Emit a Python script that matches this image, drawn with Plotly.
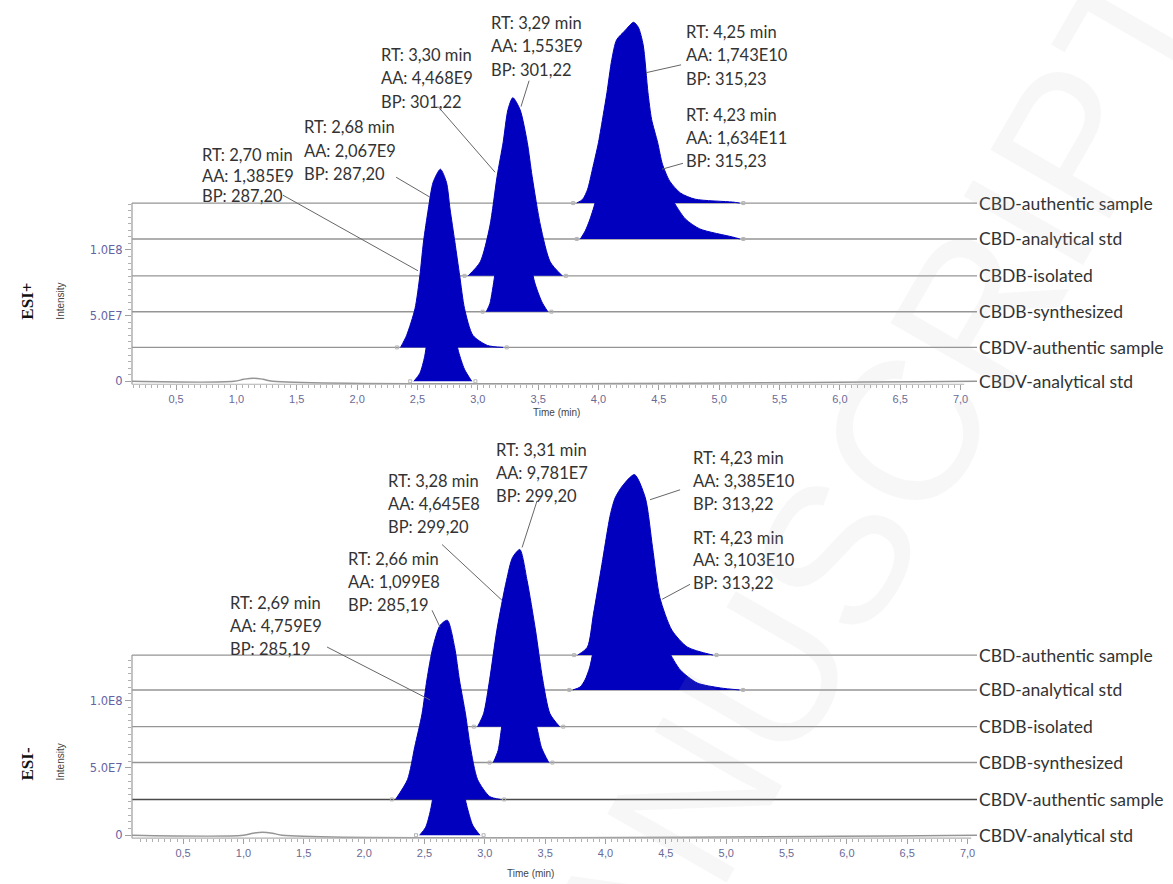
import numpy as np
import plotly.graph_objects as go

W, H = 1173, 884
BLUE = "#0000BE"
GREY = "#959595"

SAMPLES = ["CBD-authentic sample", "CBD-analytical std", "CBDB-isolated",
           "CBDB-synthesized", "CBDV-authentic sample", "CBDV-analytical std"]

# vertical offsets of each stacked chromatogram (intensity units)
POS_OFFSETS = [1.357e8, 1.084e8, 8.03e7, 5.30e7, 2.58e7, 0.0]
NEG_OFFSETS = [1.339e8, 1.080e8, 8.07e7, 5.40e7, 2.66e7, 0.0]

# ---------------- ESI+ peaks (time in min, intensity above own baseline) ----
POS_CBD_AUTH_T = [3.82, 3.87, 3.91, 3.95, 4.00, 4.04, 4.07, 4.11, 4.15, 4.22, 4.29, 4.33,
                  4.37, 4.41, 4.44, 4.49, 4.53, 4.59, 4.68, 4.80, 5.11, 5.17]
POS_CBD_AUTH_I = [0, 3.0e6, 10.6e6, 25.8e6, 46.2e6, 67.5e6, 84.1e6, 109.2e6, 124.3e6, 131.4e6,
                  137.7e6, 133.9e6, 120.5e6, 84.1e6, 63.7e6, 46.2e6, 29.6e6, 16.7e6, 7.6e6,
                  3.0e6, 0.8e6, 0]
POS_CBD_STD_T = [3.85, 3.89, 3.93, 3.98, 4.04, 4.10, 4.16, 4.26, 4.34, 4.42, 4.51, 4.61,
                 4.72, 4.84, 5.11, 5.17]
POS_CBD_STD_I = [0, 6.1e6, 15.2e6, 30.3e6, 60.6e6, 91.0e6, 109.9e6, 113.7e6, 106.1e6, 75.8e6,
                 49.3e6, 30.3e6, 15.2e6, 7.6e6, 1.5e6, 0]
POS_CBDB_ISO_T = [2.92, 3.02, 3.10, 3.16, 3.21, 3.25, 3.29, 3.35, 3.41, 3.45, 3.52, 3.60, 3.70]
POS_CBDB_ISO_I = [0, 10.6e6, 37.9e6, 75.8e6, 101.6e6, 126.6e6, 135.7e6, 126.6e6, 101.6e6,
                  75.8e6, 37.9e6, 10.6e6, 0]
POS_CBDB_SYN_T = [3.07, 3.10, 3.14, 3.18, 3.23, 3.28, 3.35, 3.42, 3.47, 3.53, 3.58]
POS_CBDB_SYN_I = [0, 6.1e6, 27.3e6, 53.1e6, 72.0e6, 75.8e6, 68.2e6, 45.5e6, 22.7e6, 7.6e6, 0]
POS_CBDV_AUTH_T = [2.36, 2.41, 2.48, 2.52, 2.55, 2.59, 2.63, 2.69, 2.74, 2.77, 2.81, 2.85,
                   2.89, 2.96, 3.08, 3.21]
POS_CBDV_AUTH_I = [0, 9.1e6, 29.6e6, 54.6e6, 80.3e6, 105.4e6, 125.8e6, 135.7e6, 125.8e6,
                   105.4e6, 80.3e6, 54.6e6, 29.6e6, 9.1e6, 1.5e6, 0]
POS_CBDV_STD_T = [2.47, 2.52, 2.56, 2.60, 2.65, 2.70, 2.75, 2.79, 2.84, 2.89, 2.95]
POS_CBDV_STD_I = [0, 6.1e6, 19.0e6, 45.5e6, 75.8e6, 83.4e6, 72.0e6, 45.5e6, 22.7e6, 9.1e6, 0]
POS_BUMP_T = [0.98, 1.06, 1.14, 1.22, 1.30]
POS_BUMP_I = [0, 1.5e6, 2.3e6, 1.5e6, 0]

# ---------------- ESI- peaks ----------------
NEG_CBD_AUTH_T = [3.77, 3.85, 3.90, 3.97, 4.04, 4.08, 4.14, 4.24, 4.33, 4.39, 4.45, 4.55, 4.68, 4.89]
NEG_CBD_AUTH_I = [0, 5.9e6, 30.3e6, 67.3e6, 104.3e6, 116.9e6, 125.8e6, 134.2e6, 116.9e6,
                  79.9e6, 42.9e6, 18.5e6, 5.9e6, 0]
NEG_CBD_STD_T = [3.73, 3.79, 3.83, 3.87, 3.93, 4.00, 4.08, 4.20, 4.30, 4.37, 4.44, 4.52,
                 4.62, 4.76, 4.95, 5.11]
NEG_CBD_STD_I = [0, 2.2e6, 7.4e6, 17.0e6, 44.4e6, 74.0e6, 103.6e6, 111.0e6, 99.9e6, 74.0e6,
                 48.1e6, 29.6e6, 14.8e6, 5.2e6, 1.5e6, 0]
NEG_CBDB_ISO_T = [2.94, 2.99, 3.04, 3.10, 3.18, 3.23, 3.29, 3.35, 3.42, 3.48, 3.54, 3.62]
NEG_CBDB_ISO_I = [0, 9.6e6, 34.8e6, 71.8e6, 108.8e6, 125.8e6, 131.7e6, 108.8e6, 71.8e6,
                  34.8e6, 9.6e6, 0]
NEG_CBDB_SYN_T = [3.07, 3.11, 3.14, 3.19, 3.25, 3.31, 3.37, 3.43, 3.47, 3.53]
NEG_CBDB_SYN_I = [0, 8.9e6, 26.6e6, 55.5e6, 70.3e6, 66.6e6, 44.4e6, 26.6e6, 11.1e6, 0]
NEG_CBDV_AUTH_T = [2.26, 2.36, 2.42, 2.48, 2.52, 2.57, 2.63, 2.69, 2.75, 2.79, 2.84, 2.88,
                   2.94, 3.04, 3.13]
NEG_CBDV_AUTH_I = [0, 14.8e6, 39.2e6, 63.6e6, 88.8e6, 113.2e6, 129.5e6, 133.2e6, 113.2e6,
                   88.8e6, 63.6e6, 39.2e6, 14.8e6, 2.2e6, 0]
NEG_CBDV_STD_T = [2.46, 2.51, 2.55, 2.60, 2.65, 2.70, 2.75, 2.80, 2.85, 2.90, 2.96]
NEG_CBDV_STD_I = [0, 5.9e6, 18.5e6, 44.4e6, 74.0e6, 81.4e6, 70.3e6, 44.4e6, 22.2e6, 7.4e6, 0]
NEG_BUMP_T = [1.00, 1.08, 1.16, 1.24, 1.32]
NEG_BUMP_I = [0, 1.5e6, 2.2e6, 1.5e6, 0]

# ---------------- peak labels ----------------
POS_RT = ["2,70", "2,68", "3,30", "3,29", "4,25", "4,23"]
POS_AA = ["1,385E9", "2,067E9", "4,468E9", "1,553E9", "1,743E10", "1,634E11"]
POS_BP = ["287,20", "287,20", "301,22", "301,22", "315,23", "315,23"]
NEG_RT = ["2,69", "2,66", "3,28", "3,31", "4,23", "4,23"]
NEG_AA = ["4,759E9", "1,099E8", "4,645E8", "9,781E7", "3,385E10", "3,103E10"]
NEG_BP = ["285,19", "285,19", "299,20", "299,20", "313,22", "313,22"]

# ---------------- axes ----------------
X_TICKS = [0.5, 1.0, 1.5, 2.0, 2.5, 3.0, 3.5, 4.0, 4.5, 5.0, 5.5, 6.0, 6.5, 7.0]
X_TICK_TEXT = ["0,5", "1,0", "1,5", "2,0", "2,5", "3,0", "3,5", "4,0", "4,5", "5,0",
               "5,5", "6,0", "6,5", "7,0"]
Y_TICKS = [0, 5e7, 1e8]
Y_TICK_TEXT = ["0", "5.0E7", "1.0E8"]

POS_PEAKS = [(POS_CBD_AUTH_T, POS_CBD_AUTH_I), (POS_CBD_STD_T, POS_CBD_STD_I),
             (POS_CBDB_ISO_T, POS_CBDB_ISO_I), (POS_CBDB_SYN_T, POS_CBDB_SYN_I),
             (POS_CBDV_AUTH_T, POS_CBDV_AUTH_I), (POS_CBDV_STD_T, POS_CBDV_STD_I)]
NEG_PEAKS = [(NEG_CBD_AUTH_T, NEG_CBD_AUTH_I), (NEG_CBD_STD_T, NEG_CBD_STD_I),
             (NEG_CBDB_ISO_T, NEG_CBDB_ISO_I), (NEG_CBDB_SYN_T, NEG_CBDB_SYN_I),
             (NEG_CBDV_AUTH_T, NEG_CBDV_AUTH_I), (NEG_CBDV_STD_T, NEG_CBDV_STD_I)]

# layout geometry
XDOM = [132 / W, 977 / W]
TOP = dict(xr=[0.135, 7.136], yr=[-2.27e6, 2.79e8], dom=[(H - 386) / H, (H - 15) / H])
BOT = dict(xr=[0.077, 7.078], yr=[-2.22e6, 2.916e8], dom=[(H - 842) / H, (H - 445) / H])

# label block placement (left time, intensity of first line)
POS_LABEL_POS = [(0.707, 172.1e6), (1.552, 193.3e6), (2.190, 248.6e6), (3.101, 272.9e6),
                 (4.717, 266.1e6), (4.717, 203.1e6)]
NEG_LABEL_POS = [(0.881, 172.4e6), (1.859, 205.0e6), (2.190, 263.4e6), (3.085, 286.4e6),
                 (4.717, 280.5e6), (4.717, 221.3e6)]
POS_STEPS = [1.55e7, 1.78e7, 1.78e7, 1.78e7, 1.78e7, 1.78e7]
NEG_STEPS = [1.70e7] * 6
POS_LEADERS = [(1.386, 141.7e6, 2.505, 84.1e6), (2.323, 155.4e6, 2.604, 140.2e6),
               (2.671, 209.2e6, 3.143, 159.2e6), (3.425, 228.9e6, 3.358, 209.2e6),
               (4.684, 241.0e6, 4.394, 235.0e6), (4.70, 166.0e6, 4.526, 161.5e6)]
NEG_LEADERS = [(1.693, 139.9e6, 2.546, 100.6e6), (2.563, 167.2e6, 2.629, 154.7e6),
               (2.646, 216.1e6, 3.143, 174.6e6), (3.433, 248.6e6, 3.309, 213.9e6),
               (4.618, 256.8e6, 4.369, 249.4e6), (4.70, 186.5e6, 4.469, 175.4e6)]

TEXT_FAMILY = "Lato, Open Sans, sans-serif"
LABEL_FONT = dict(family=TEXT_FAMILY, size=16.5, color="#333333")
AXIS_FONT = dict(family="DejaVu Sans, Liberation Sans, sans-serif", size=11.5, color="#6464a4")

fig = go.Figure()


def ypaper(panel, v):
    r0, r1 = panel["yr"]
    d0, d1 = panel["dom"]
    return d0 + (v - r0) / (r1 - r0) * (d1 - d0)


def xpaper(panel, t):
    r0, r1 = panel["xr"]
    return XDOM[0] + (t - r0) / (r1 - r0) * (XDOM[1] - XDOM[0])


def add_panel(xa, ya, panel, offsets, peaks, bump_t, bump_i, dark_idx=None):
    xr = panel["xr"]
    for i, off in enumerate(offsets):
        if i == 5:
            x = [xr[0]] + bump_t + [xr[1]]
            y = [off] + [off + v for v in bump_i] + [off]
        else:
            x = [xr[0], xr[1]]
            y = [off, off]
        col = "#4a4a4a" if i == dark_idx else GREY
        fig.add_trace(go.Scatter(x=x, y=y, mode="lines", xaxis=xa, yaxis=ya,
                                 line=dict(color=col, width=1.4, shape="spline"),
                                 showlegend=False, hoverinfo="skip"))
    for i, (t, inten) in enumerate(peaks):
        fig.add_trace(go.Scatter(x=t, y=[offsets[i] + v for v in inten], mode="lines",
                                 xaxis=xa, yaxis=ya, fill="toself", fillcolor=BLUE,
                                 line=dict(color=BLUE, width=1, shape="spline", smoothing=0.7),
                                 showlegend=False, hoverinfo="skip"))
    mx, my = [], []
    for i, (t, inten) in enumerate(peaks):
        mx += [t[0] - 0.03, t[-1] + 0.03]
        my += [offsets[i], offsets[i]]
    fig.add_trace(go.Scatter(x=mx, y=my, mode="markers", xaxis=xa, yaxis=ya,
                             marker=dict(symbol="square-open", size=3, color="#b4b4b4",
                                         line=dict(width=1)),
                             showlegend=False, hoverinfo="skip"))


add_panel("x", "y", TOP, POS_OFFSETS, POS_PEAKS, POS_BUMP_T, POS_BUMP_I)
add_panel("x2", "y2", BOT, NEG_OFFSETS, NEG_PEAKS, NEG_BUMP_T, NEG_BUMP_I, dark_idx=4)

annotations = []
shapes = []


def add_labels(xref, yref, panel, rts, aas, bps, pos, leaders, steps):
    for k in range(len(rts)):
        t0, y0 = pos[k]
        lines = ["RT: %s min" % rts[k], "AA: %s" % aas[k], "BP: %s" % bps[k]]
        for j, txt in enumerate(lines):
            annotations.append(dict(x=t0, y=y0 - j * steps[k], xref=xref, yref=yref, text=txt,
                                    showarrow=False, xanchor="left", yanchor="middle",
                                    borderpad=0, font=LABEL_FONT))
        x0, y0l, x1, y1l = leaders[k]
        shapes.append(dict(type="line", xref=xref, yref=yref, x0=x0, y0=y0l, x1=x1, y1=y1l,
                           line=dict(color="#666666", width=1)))
    # sample names at right
    offs = POS_OFFSETS if yref == "y" else NEG_OFFSETS
    for name, off in zip(SAMPLES, offs):
        annotations.append(dict(x=978 / W, y=off, xref="paper", yref=yref, text=name,
                                showarrow=False, xanchor="left", yanchor="middle",
                                borderpad=0,
                                font=dict(family=TEXT_FAMILY, size=17.5, color="#333333")))
    # axis lines
    shapes.append(dict(type="line", xref="paper", yref="paper", x0=XDOM[0], x1=XDOM[0],
                       y0=panel["dom"][0], y1=ypaper(panel, offs[0]),
                       line=dict(color="#9a9a9a", width=1.2)))
    shapes.append(dict(type="line", xref="paper", yref="paper", x0=XDOM[0],
                       x1=xpaper(panel, 7.03), y0=panel["dom"][0], y1=panel["dom"][0],
                       line=dict(color="#b0b0b0", width=1.2)))


add_labels("x", "y", TOP, POS_RT, POS_AA, POS_BP, POS_LABEL_POS, POS_LEADERS, POS_STEPS)
add_labels("x2", "y2", BOT, NEG_RT, NEG_AA, NEG_BP, NEG_LABEL_POS, NEG_LEADERS, NEG_STEPS)

# side titles
for py, ipy, mode in [(303, 303, "ESI+"), (768, 766, "ESI-")]:
    annotations.append(dict(x=28 / W, y=1 - py / H, xref="paper", yref="paper",
                            text="<b>%s</b>" % mode,
                            showarrow=False, textangle=-90, xanchor="center", yanchor="middle",
                            font=dict(family="Liberation Serif, Times New Roman, serif",
                                      size=17, color="#111111")))
    annotations.append(dict(x=61 / W, y=1 - ipy / H, xref="paper", yref="paper",
                            text="Intensity", showarrow=False, textangle=-90,
                            xanchor="center", yanchor="middle",
                            font=dict(family="Liberation Sans, Arial, sans-serif", size=10,
                                      color="#444444")))
for px, py in [(556, 414), (530, 877)]:
    annotations.append(dict(x=px / W, y=1 - py / H, xref="paper", yref="paper",
                            text="Time (min)", showarrow=False, xanchor="center",
                            yanchor="middle",
                            font=dict(family="Liberation Sans, Arial, sans-serif", size=10,
                                      color="#444444")))

# faint watermark
annotations.append(dict(x=552 / W, y=1 - 1050 / H, xref="paper", yref="paper",
                        text="ACCEPTED MANUSCRIPT", showarrow=False, textangle=-60,
                        xanchor="center", yanchor="middle",
                        font=dict(family="Liberation Sans, Arial, sans-serif", size=200,
                                  color="rgba(180,180,180,0.10)")))


def xaxis_cfg(panel, anchor):
    r0 = panel["xr"][0]
    minor_vals = [round(v, 2) for v in np.arange(0.15, 7.001, 0.05) if v >= r0]
    return dict(domain=XDOM, range=panel["xr"], anchor=anchor, showgrid=False,
                zeroline=False, showline=False, tickvals=X_TICKS, ticktext=X_TICK_TEXT,
                ticks="outside", ticklen=5, tickcolor="#a0a0a0", tickwidth=1,
                tickfont=dict(family="Liberation Sans, Arial, sans-serif", size=11,
                              color="#6a6a96"),
                minor=dict(tickvals=minor_vals, ticks="outside", ticklen=3,
                           tickcolor="#b0b0b0", showgrid=False))


def yaxis_cfg(panel, anchor, top_off):
    minor_vals = list(np.arange(0, top_off + 1, 5e6))
    return dict(domain=panel["dom"], range=panel["yr"], anchor=anchor, showgrid=False,
                zeroline=False, showline=False, tickvals=Y_TICKS, ticktext=Y_TICK_TEXT,
                ticks="outside", ticklen=6, tickcolor="#a0a0a0", tickwidth=1,
                tickfont=AXIS_FONT,
                minor=dict(tickvals=minor_vals, ticks="outside", ticklen=3,
                           tickcolor="#b0b0b0", showgrid=False))


fig.update_layout(
    width=W, height=H, margin=dict(l=0, r=0, t=0, b=0),
    paper_bgcolor="white", plot_bgcolor="rgba(0,0,0,0)",
    xaxis=xaxis_cfg(TOP, "y"), yaxis=yaxis_cfg(TOP, "x", POS_OFFSETS[0]),
    xaxis2=xaxis_cfg(BOT, "y2"), yaxis2=yaxis_cfg(BOT, "x2", NEG_OFFSETS[0]),
    annotations=annotations, shapes=shapes, showlegend=False,
)

fig.write_html(
    "out.html",
    config={"displayModeBar": False},
    post_script="document.body.style.margin='0';document.body.style.padding='0';"
                "document.body.style.overflow='hidden';",
)
